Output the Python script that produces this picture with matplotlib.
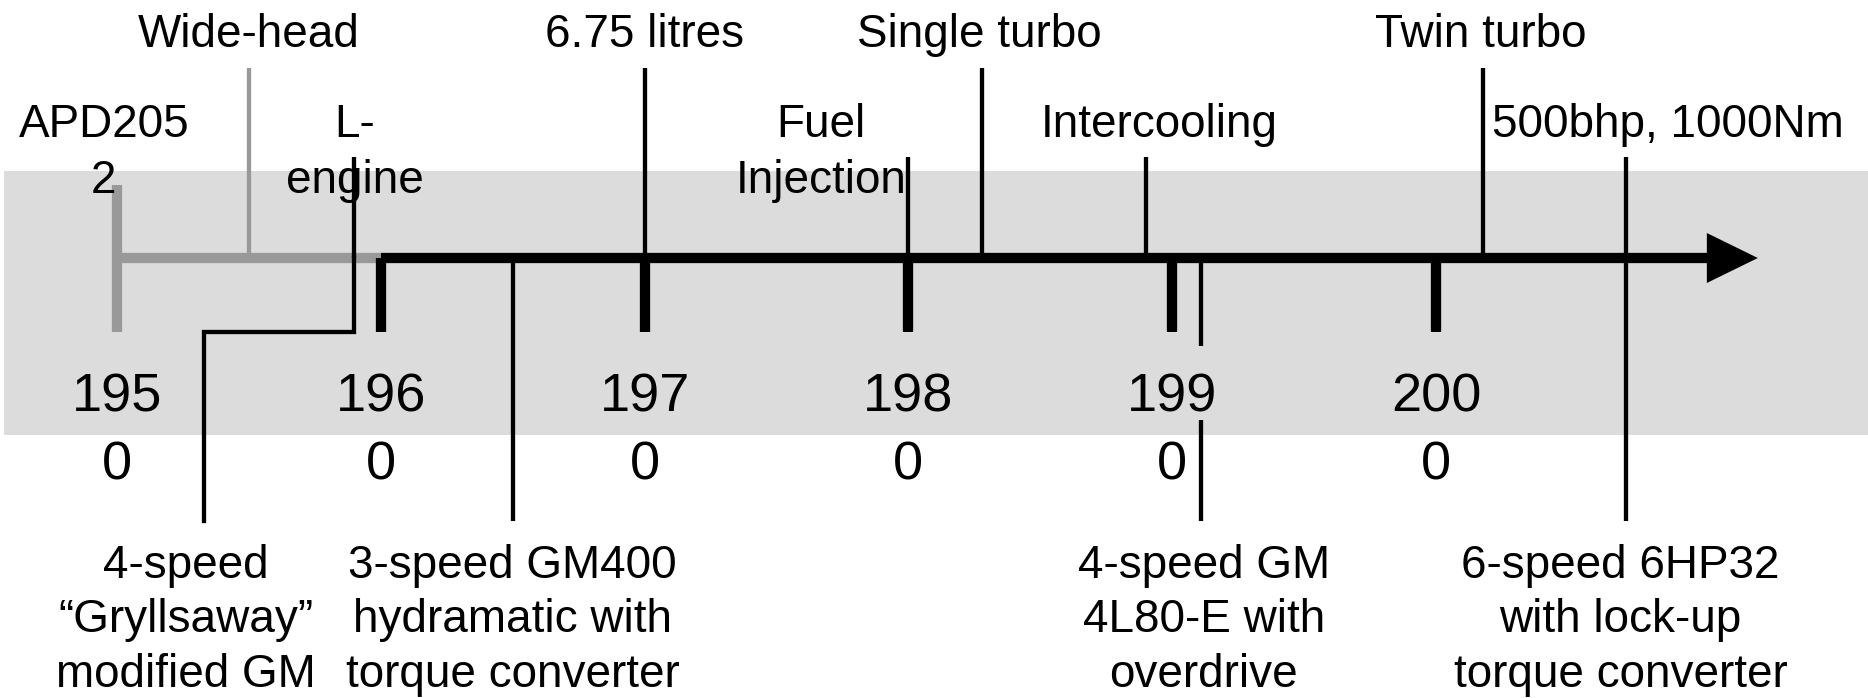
import matplotlib.pyplot as plt

# ---- data -------------------------------------------------------------
decades = [1950, 1960, 1970, 1980, 1990, 2000]
decade_labels = ["195\n0", "196\n0", "197\n0", "198\n0", "199\n0", "200\n0"]

early_start, early_end = 1950, 1960      # grey (pre L-series) part of the line
arrow_end = 2012.2

# engine milestones, long stems up to the top row
top_events = ["Wide-head", "6.75 litres", "Single turbo", "Twin turbo"]
top_years = [1955, 1970, 1982.8, 2001.8]
top_label_x = [1955, 1970, 1982.7, 2001.7]
top_grey = [True, False, False, False]

# engine milestones, short stems, second row
mid_events = ["APD205\n2", "L-\nengine", "Fuel\nInjection", "Intercooling", "500bhp, 1000Nm"]
mid_years = [1950, 1959, 1980, 1989, 2007.2]
mid_label_x = [1949.5, 1959, 1976.7, 1989.5, 2008.8]

# gearboxes, below the line
gear_events = ["4-speed\n\u201cGryllsaway\u201d\nmodified GM",
               "3-speed GM400\nhydramatic with\ntorque converter",
               "4-speed GM\n4L80-E with\noverdrive",
               "6-speed 6HP32\nwith lock-up\ntorque converter"]
gear_years = [1959, 1965, 1991.1, 2007.2]
gear_stem_x = [1953.3, 1965, 1991.1, 2007.2]
gear_label_x = [1952.6, 1965, 1991.2, 2007.0]

# ---- layout (pixels from top) -----------------------------------------
W, H = 1868, 698
px_per_year = 26.38
x0 = 1950 - 117 / px_per_year
x1 = x0 + W / px_per_year

axis_y = 258
tick_bot = 332
top_stem = 68
mid_stem = 157
low_end = 521

grey = "#999999"
band = "#dcdcdc"
thick = 7.4
thin = 3.1
font = "Liberation Sans"
fs = 33
fs_year = 39

fig = plt.figure(figsize=(W / 100, H / 100), dpi=100)
ax = fig.add_axes([0, 0, 1, 1])
ax.set_xlim(x0, x1)
ax.set_ylim(H, 0)
ax.set_axis_off()

ax.axhspan(171, 435, xmin=4 / W, xmax=1, color=band, lw=0, zorder=0)


def put_text(x, y0, text, step, size):
    for i, line in enumerate(text.split("\n")):
        ax.text(x, y0 + i * step, line, ha="center", va="baseline",
                fontsize=size, family=font, color="black", zorder=5)


# main time line
ax.plot([early_start, early_end], [axis_y, axis_y], color=grey, lw=thick,
        solid_capstyle="butt", zorder=2)
arrow_base = arrow_end - 51 / px_per_year
ax.plot([early_end, arrow_base], [axis_y, axis_y], color="black", lw=thick,
        solid_capstyle="butt", zorder=2)
ax.fill([arrow_base, arrow_end, arrow_base],
        [axis_y - 25, axis_y, axis_y + 25], color="black", lw=0, zorder=2)

# decade ticks and labels
ax.vlines(decades[0], 185, tick_bot, color=grey, lw=thick, zorder=2)
ax.vlines(decades[1:], axis_y, tick_bot, color="black", lw=thick, zorder=2)
for d, lab in zip(decades, decade_labels):
    put_text(d, 411, lab, 68, fs_year)

# top row
for name, yr, lx, g in zip(top_events, top_years, top_label_x, top_grey):
    ax.vlines(yr, top_stem, axis_y, color=grey if g else "black", lw=thin, zorder=3)
    put_text(lx, 47, name, 56, fs)

# second row
for name, yr, lx in zip(mid_events, mid_years, mid_label_x):
    if yr != early_start:
        ax.vlines(yr, mid_stem, axis_y, color="black", lw=thin, zorder=3)
    put_text(lx, 137, name, 56, fs)

# gearboxes
for name, yr, sx, lx in zip(gear_events, gear_years, gear_stem_x, gear_label_x):
    if sx != yr:
        # elbow from the engine stem
        ax.plot([yr, yr, sx, sx], [axis_y, tick_bot, tick_bot, low_end],
                color="black", lw=thin, solid_joinstyle="miter", zorder=3)
    elif yr == mid_years[-1]:
        ax.vlines(yr, axis_y, low_end, color="black", lw=thin, zorder=3)
    elif yr == 1991.1:
        ax.vlines(yr, axis_y + 5, 346, color="black", lw=thin, zorder=3)
        ax.vlines(yr, 420, low_end, color="black", lw=thin, zorder=3)
    else:
        ax.vlines(yr, axis_y, low_end, color="black", lw=thin, zorder=3)
    put_text(lx, 578, name, 54.5, fs)

fig.savefig("out.png", dpi=100)
